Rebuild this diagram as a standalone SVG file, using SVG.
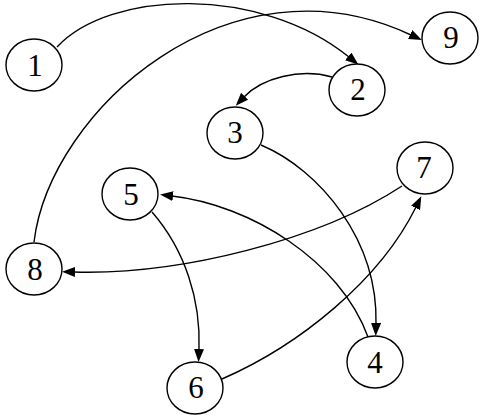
<svg xmlns="http://www.w3.org/2000/svg" width="482" height="418" viewBox="0 0 482 418">
<defs>
<marker id="arr" markerUnits="userSpaceOnUse" markerWidth="14" markerHeight="11" refX="1" refY="5" orient="auto">
<path d="M0,0 L13,5 L0,10 z" fill="#000"/>
</marker>
<style>
.n ellipse{fill:#fff;stroke:#000;stroke-width:1.4}
.n text{font-family:"Liberation Serif","Times New Roman",serif;font-size:31px;text-anchor:middle;fill:#000}
#edges path{fill:none;stroke:#000;stroke-width:1.4;marker-end:url(#arr)}
</style>
</defs>
<rect width="482" height="418" fill="#fff"/>
<g id="edges">
<path id="e1-2" d="M57,47 C110,-10 260,-15 349,57"/>
<path id="e8-9" d="M34,242 C50,110 230,-50 411,35"/>
<path id="e2-3" d="M332,77 C300,68 262,78 244,97"/>
<path id="e3-4" d="M261,145 C320,170 378,240 376,324"/>
<path id="e4-5" d="M368,337 C340,260 250,205 172,196"/>
<path id="e5-6" d="M152,212 C185,250 201,300 199,350"/>
<path id="e6-7" d="M222,379 C300,345 380,280 416,207"/>
<path id="e7-8" d="M402,186 C320,240 180,275 74,272"/>
</g>
<g id="n1" class="n"><ellipse cx="34" cy="65" rx="28" ry="26"/><text x="35" y="76">1</text></g>
<g id="n2" class="n"><ellipse cx="357" cy="90" rx="28" ry="26"/><text x="358" y="100">2</text></g>
<g id="n3" class="n"><ellipse cx="235" cy="133" rx="28" ry="26"/><text x="235" y="143">3</text></g>
<g id="n4" class="n"><ellipse cx="375" cy="362" rx="28" ry="26"/><text x="375" y="373">4</text></g>
<g id="n5" class="n"><ellipse cx="130" cy="194" rx="28" ry="26"/><text x="131" y="205">5</text></g>
<g id="n6" class="n"><ellipse cx="195" cy="388" rx="28" ry="26"/><text x="196" y="398">6</text></g>
<g id="n7" class="n"><ellipse cx="425" cy="168" rx="28" ry="26"/><text x="424" y="178">7</text></g>
<g id="n8" class="n"><ellipse cx="34" cy="269" rx="28" ry="26"/><text x="35" y="280">8</text></g>
<g id="n9" class="n"><ellipse cx="450" cy="38" rx="28" ry="26"/><text x="451" y="48">9</text></g>
</svg>
